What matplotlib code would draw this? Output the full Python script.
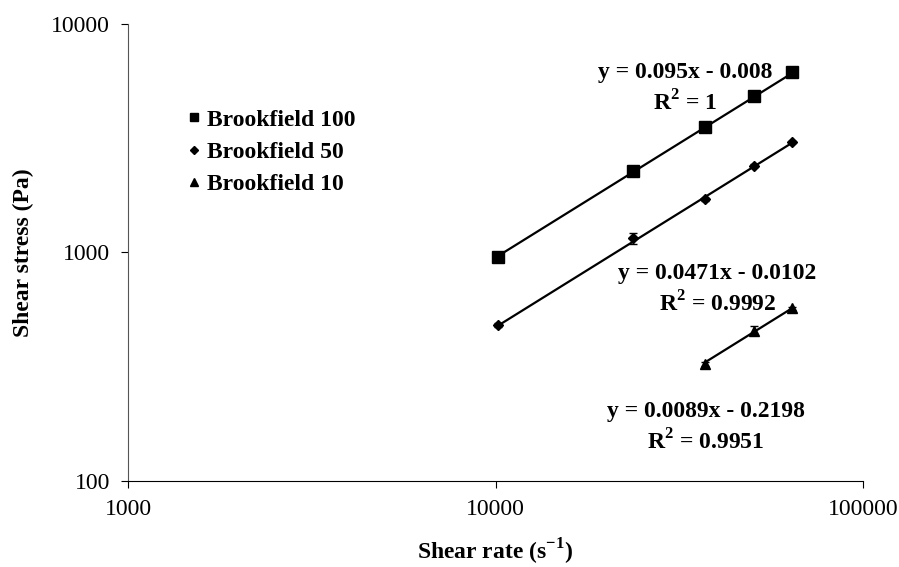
import matplotlib
matplotlib.use("Agg")
import matplotlib.pyplot as plt
import numpy as np

plt.rcParams["font.family"] = ["Liberation Serif", "DejaVu Serif"]
plt.rcParams["mathtext.fontset"] = "custom"
plt.rcParams["mathtext.rm"] = "Liberation Serif"
plt.rcParams["mathtext.bf"] = "Liberation Serif:bold"

# ---------------------------------------------------------------------------
# Data
# ---------------------------------------------------------------------------
rate_100 = [10160, 23600, 37200, 50500, 64000]
stress_100 = [958, 2275, 3556, 4843, 6150]
err_100 = [15, 40, 40, 50, 50]

rate_50 = [10160, 23600, 37200, 50500, 64000]
stress_50 = [482, 1153, 1710, 2400, 3034]
err_50 = [10, 60, 30, 40, 30]

rate_10 = [37200, 50500, 64000]
stress_10 = [325, 455, 570]
err_10 = [8, 20, 10]

labels = ["Brookfield 100", "Brookfield 50", "Brookfield 10"]
markers = ["s", "D", "^"]
marker_sizes = [8.0, 5.0, 7.0]

# linear trendlines y = a*x + b
fit_slope = [0.095, 0.0471, 0.0089]
fit_icpt = [-0.008, -0.0102, -0.2198]
fit_r2 = ["1", "0.9992", "0.9951"]

# label anchor (data coords, centre of equation line)
eq_pos = [(32800, 6160), (40100, 813), (37400, 201)]

FS = 17


def main():
    fig = plt.figure(figsize=(8.99, 5.67), dpi=100)
    ax = fig.add_axes([0.1424, 0.1517, 0.8176, 0.806])

    series = [(rate_100, stress_100, err_100),
              (rate_50, stress_50, err_50),
              (rate_10, stress_10, err_10)]

    for i, (x, y, e) in enumerate(series):
        ax.errorbar(x, y, yerr=e, fmt=markers[i], color="black",
                    markersize=marker_sizes[i], ecolor="black",
                    elinewidth=1, capsize=3, label=labels[i], zorder=3)
        xs = np.linspace(x[0], x[-1], 50)
        ax.plot(xs, fit_slope[i] * xs + fit_icpt[i], color="black",
                linewidth=1.6, zorder=2)

        sign = "-" if fit_icpt[i] < 0 else "+"
        eq = f"y = {fit_slope[i]}x {sign} {abs(fit_icpt[i])}"
        ex, ey = eq_pos[i]
        ax.text(ex, ey, eq, ha="center", va="center", fontsize=FS,
                fontweight="bold")
        ax.annotate(f"R$^{{\\mathbf{{2}}}}$ = {fit_r2[i]}", xy=(ex, ey),
                    xytext=(0, -22), textcoords="offset points",
                    ha="center", va="center", fontsize=FS, fontweight="bold")

    ax.set_xscale("log")
    ax.set_yscale("log")
    ax.set_xlim(1000, 100000)
    ax.set_ylim(100, 10000)
    ax.set_xticks([1000, 10000, 100000])
    ax.set_xticklabels(["1000", "10000", "100000"])
    ax.set_yticks([100, 1000, 10000])
    ax.set_yticklabels(["100", "1000", "10000"])
    ax.minorticks_off()
    ax.tick_params(direction="out", length=5, labelsize=FS, pad=8)

    for side in ["top", "right"]:
        ax.spines[side].set_visible(False)
    ax.spines["left"].set_color("#555555")

    ax.set_xlabel("Shear rate (s$^{\\mathbf{-1}}$)", fontsize=FS,
                  fontweight="bold", labelpad=12)
    ax.set_ylabel("Shear stress (Pa)", fontsize=FS, fontweight="bold",
                  labelpad=12)

    handles, lbls = ax.get_legend_handles_labels()
    handles = [h[0] for h in handles]
    ax.legend(handles, lbls, loc="upper left", bbox_to_anchor=(0.046, 0.86),
              frameon=False, handletextpad=0.1, handlelength=0.9,
              labelspacing=0.45, markerscale=0.75,
              prop={"weight": "bold", "size": FS})

    fig.savefig("out.png", dpi=100)
    plt.close(fig)


if __name__ == "__main__":
    main()
